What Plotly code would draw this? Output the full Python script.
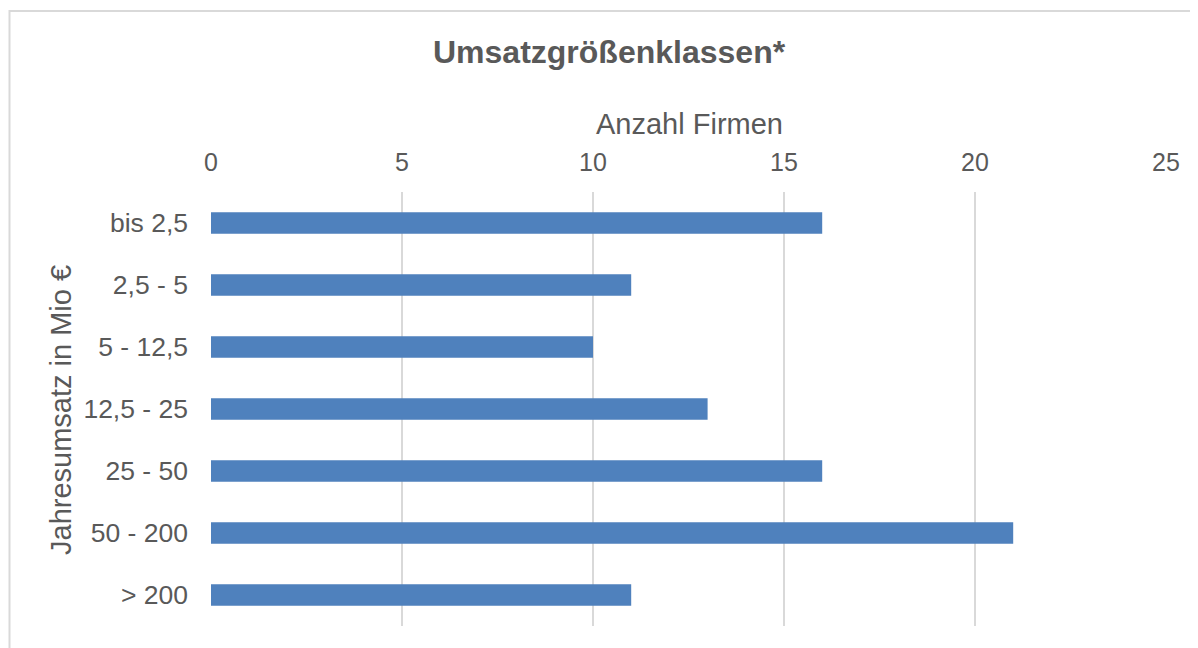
import plotly.graph_objects as go

categories = ["bis 2,5", "2,5 - 5", "5 - 12,5", "12,5 - 25", "25 - 50", "50 - 200", "> 200"]
firmen = [16, 11, 10, 13, 16, 21, 11]
x_ticks = [0, 5, 10, 15, 20, 25]

W, H = 1198, 648
OFF = 8  # page offset of the figure
# target pixel positions of plot area in the screenshot
PL, PR, PT, PB = 211, 1166, 192, 626
L, R, T, B = PL - OFF, W - (PR - OFF), PT - OFF, H - (PB - OFF)
pw, ph = PR - PL, PB - PT

def px_x(px):
    return (px - PL) / pw

def px_y(py):
    return (PB - py) / ph

FONT = "Liberation Sans, Arial, sans-serif"
GREY = "#595959"

fig = go.Figure(go.Bar(
    y=categories, x=firmen, orientation="h",
    marker=dict(color="#4F81BD", line=dict(width=0)),
))

fig.update_layout(
    width=W, height=H,
    margin=dict(l=L, r=R, t=T, b=B),
    paper_bgcolor="white", plot_bgcolor="white",
    bargap=0.65,
    showlegend=False,
    font=dict(family=FONT, color=GREY, size=25),
    xaxis=dict(
        side="top", range=[0, 25], tickvals=x_ticks,
        showgrid=True, gridcolor="#D9D9D9", gridwidth=1.5,
        zeroline=False, showline=False, ticks="",
        tickfont=dict(size=25, color=GREY), ticklabelstandoff=15,
    ),
    yaxis=dict(
        categoryorder="array", categoryarray=categories, autorange="reversed",
        showgrid=False, zeroline=False, showline=False, ticks="",
        tickfont=dict(size=26.5, color=GREY), ticklabelstandoff=22,
    ),
    annotations=[
        dict(text="<b>Umsatzgrößenklassen*</b>", x=px_x(609), y=px_y(52),
             xref="paper", yref="paper", showarrow=False,
             font=dict(size=32, color=GREY, family=FONT), xanchor="center", yanchor="middle"),
        dict(text="Anzahl Firmen", x=px_x(689), y=px_y(124),
             xref="paper", yref="paper", showarrow=False,
             font=dict(size=29, color=GREY, family=FONT), xanchor="center", yanchor="middle"),
        dict(text="Jahresumsatz in Mio €", x=px_x(61), y=px_y(410),
             xref="paper", yref="paper", showarrow=False, textangle=-90,
             font=dict(size=29, color=GREY, family=FONT), xanchor="center", yanchor="middle"),
    ],
    shapes=[
        dict(type="rect", xref="paper", yref="paper",
             x0=px_x(9.5), x1=px_x(1230), y0=px_y(680), y1=px_y(11),
             line=dict(color="#D9D9D9", width=2), fillcolor="rgba(0,0,0,0)", layer="below"),
    ],
)

fig.write_html("out.html")
